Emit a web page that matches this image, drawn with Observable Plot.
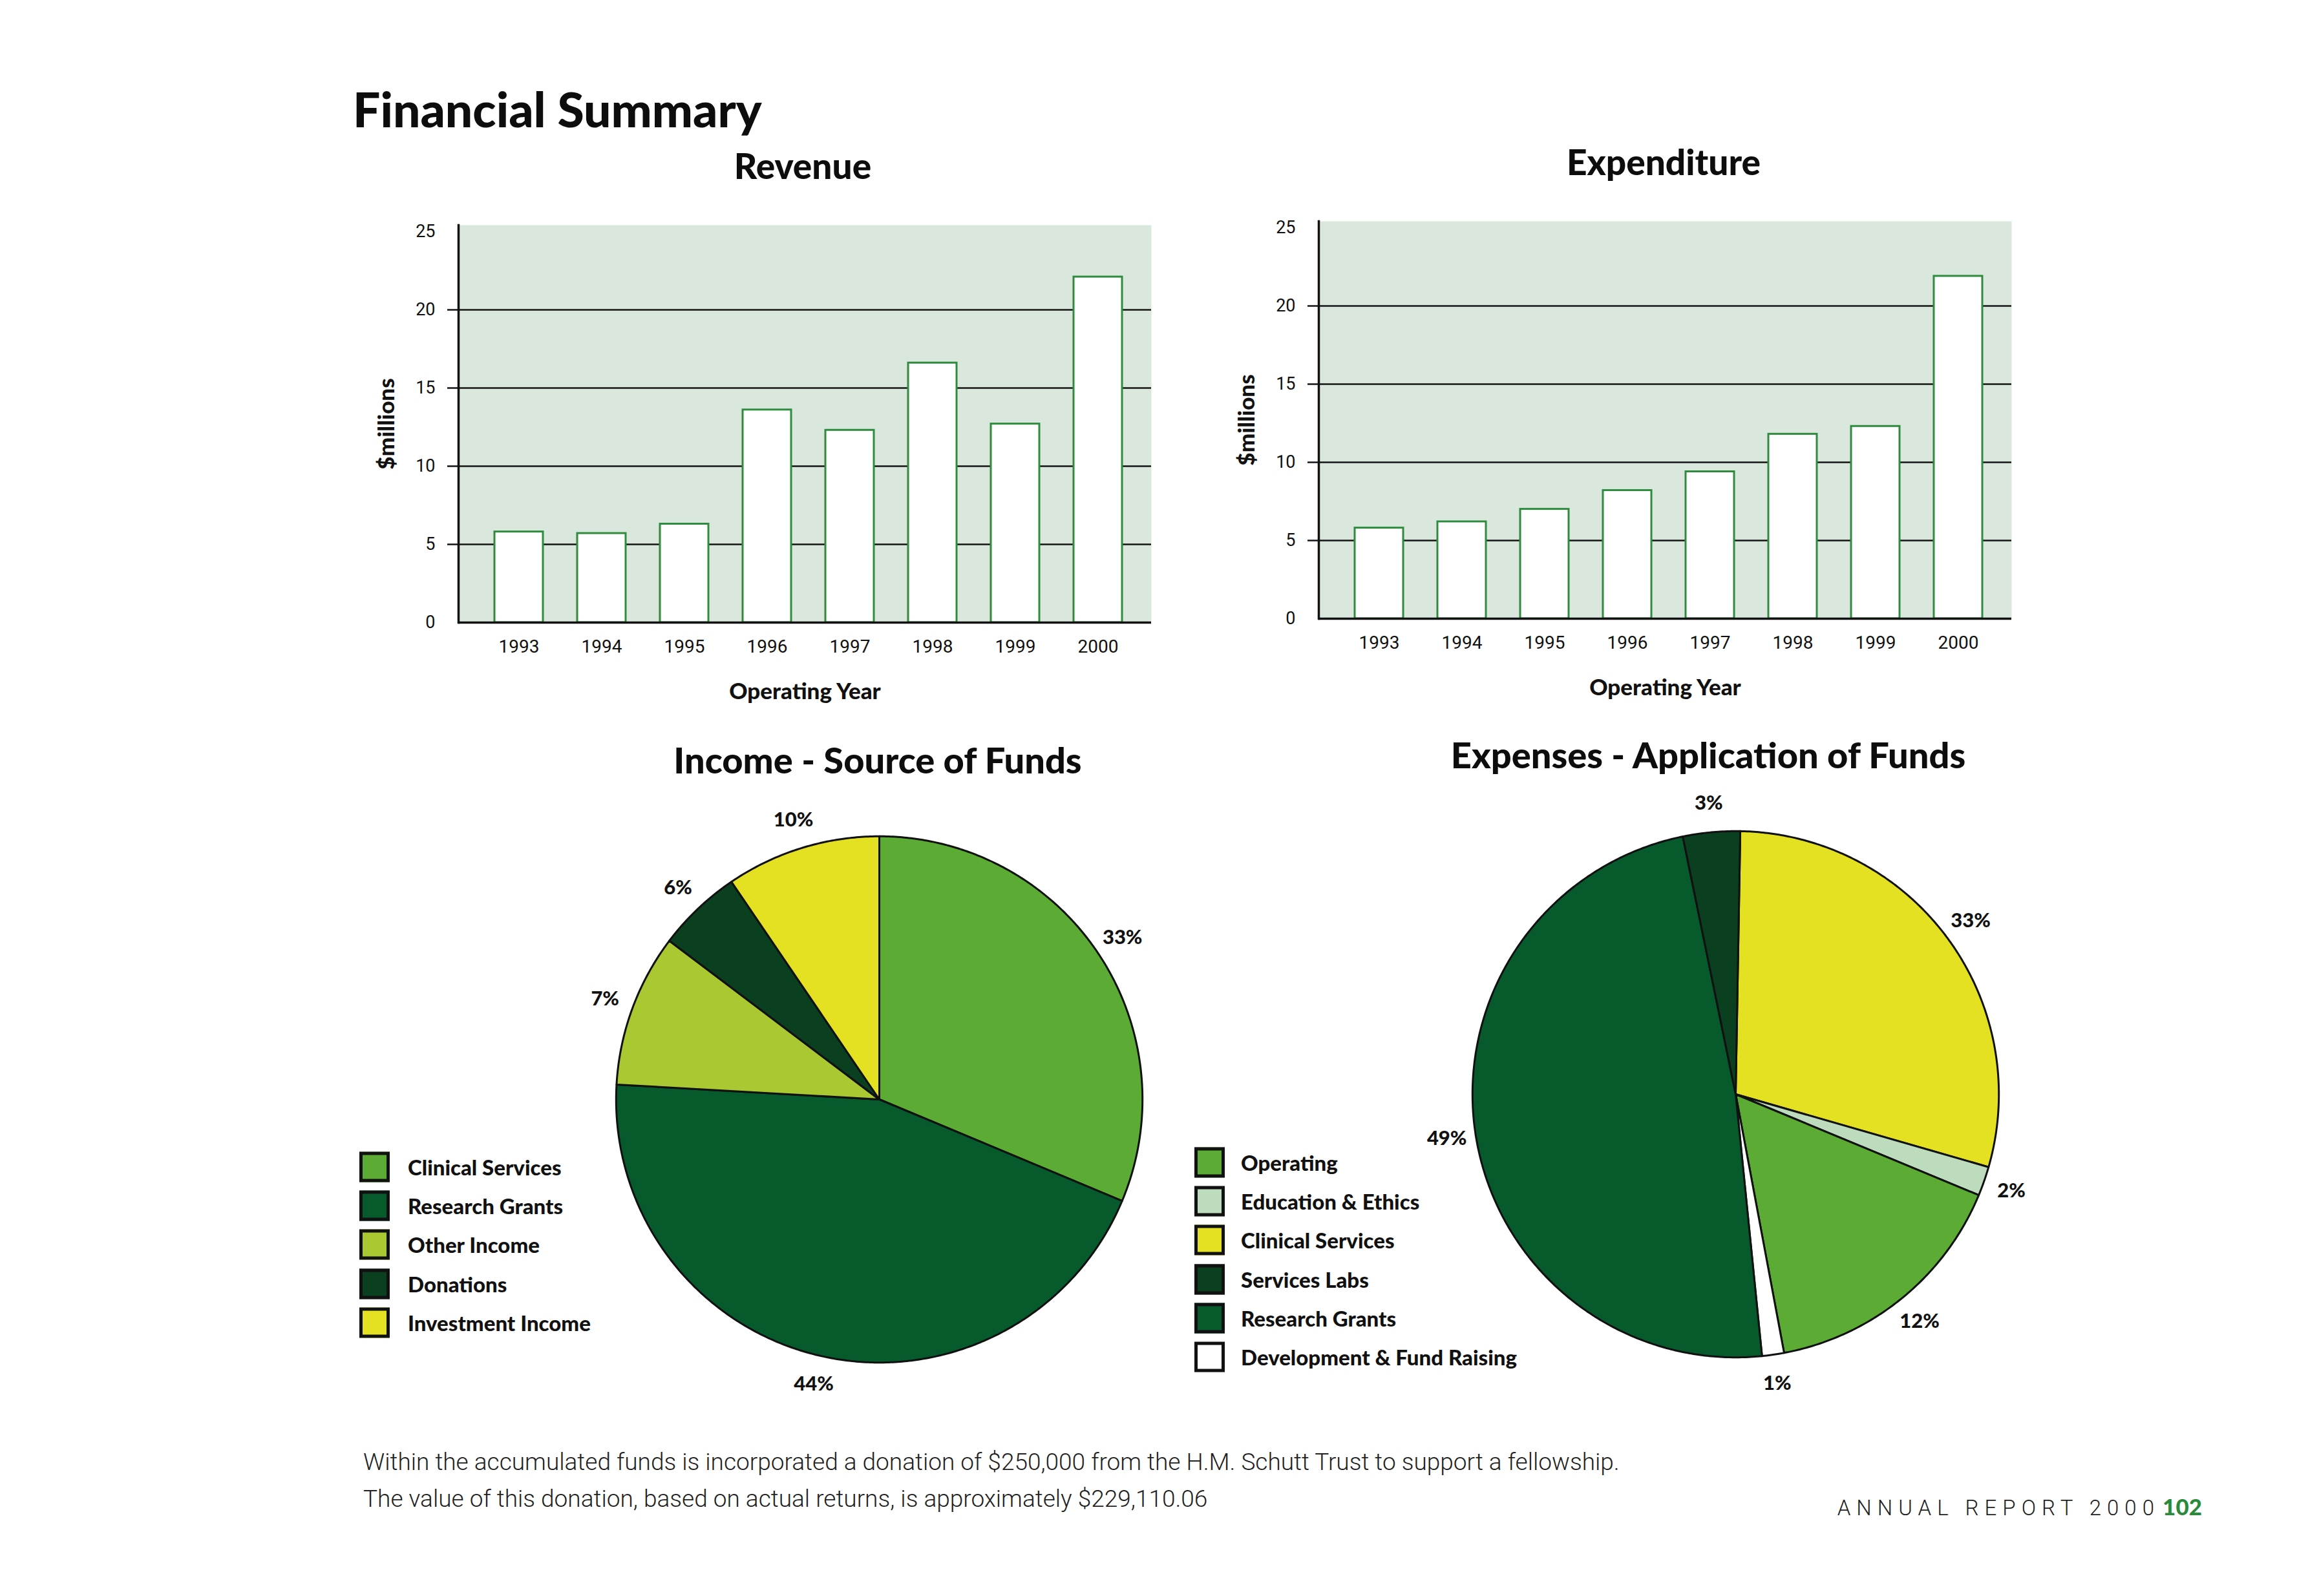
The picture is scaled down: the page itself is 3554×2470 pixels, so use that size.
<!DOCTYPE html>
<html>
<head>
<meta charset="utf-8">
<script src="https://cdn.jsdelivr.net/npm/d3@7"></script>
<script src="https://cdn.jsdelivr.net/npm/@observablehq/plot@0.6"></script>
<style>
html, body { margin: 0; padding: 0; background: #fff; }
#page { position: relative; width: 3554px; height: 2470px; overflow: hidden; background: #fff; font-family: Lato, "Open Sans", sans-serif; color: #111; }
.t { position: absolute; white-space: nowrap; line-height: 1; }
.cx { transform: translate(-50%, -50%); }
.lx { transform: translate(0, -50%); }
.rx { transform: translate(-100%, -50%); }
.h { font-family: Lato, sans-serif; font-weight: 900; color: #0d0d0d; }
.sw { position: absolute; box-sizing: border-box; width: 47px; height: 47px; border: 5px solid #111; transform: translate(0, -50%); }
.lt { position: absolute; white-space: nowrap; line-height: 1; font-family: Lato, sans-serif; font-weight: 900; font-size: 33px; transform: translate(0, -50%); color: #111; }
</style>
</head>
<body>
<div id="page"></div>
<script>
// ---------------- data ----------------
const years = ["1993", "1994", "1995", "1996", "1997", "1998", "1999", "2000"];
const revenue = [5.8, 5.7, 6.3, 13.6, 12.3, 16.6, 12.7, 22.1];
const expenditure = [5.8, 6.2, 7.0, 8.2, 9.4, 11.8, 12.3, 21.9];
const yTicks = [0, 5, 10, 15, 20, 25];
const gridValues = [5, 10, 15, 20];

// Income pie (clockwise from 12 o'clock)
const incomeCategories = ["Clinical Services", "Research Grants", "Other Income", "Donations", "Investment Income"];
const incomeShares = [31.3, 44.6, 9.4, 5.2, 9.5];
const incomeLabels = ["33%", "44%", "7%", "6%", "10%"];
const incomeColors = ["#5cab34", "#065a2c", "#a9c832", "#0a3f1f", "#e4e022"];

// Expenses pie (clockwise from 12 o'clock)
const expenseCategories = ["Clinical Services", "Education & Ethics", "Operating", "Development & Fund Raising", "Research Grants", "Services Labs"];
const expenseShares = [29.2, 1.8, 15.8, 1.35, 48.4, 3.5];
const expenseLabels = ["33%", "2%", "12%", "1%", "49%", "3%"];
const expenseColors = ["#e4e022", "#bddcbd", "#5cab34", "#ffffff", "#065a2c", "#0a3f1f"];
const expenseLegendOrder = ["Operating", "Education & Ethics", "Clinical Services", "Services Labs", "Research Grants", "Development & Fund Raising"];

const footnote = [
  "Within the accumulated funds is incorporated a donation of $250,000 from the H.M. Schutt Trust to support a fellowship.",
  "The value of this donation, based on actual returns, is approximately $229,110.06"
];

// ---------------- helpers ----------------
const page = document.getElementById("page");
function place(el, left, top) {
  el.style.position = "absolute";
  el.style.left = left + "px";
  el.style.top = top + "px";
  page.appendChild(el);
  return el;
}
function text(str, cls, left, top, style) {
  const d = document.createElement("div");
  d.className = "t " + cls;
  d.textContent = str;
  Object.assign(d.style, style || {});
  return place(d, left, top);
}

function barChart(values) {
  const data = years.map((year, i) => ({year, value: values[i]}));
  return Plot.plot({
    width: 1252,
    height: 765,
    marginLeft: 160,
    marginRight: 20,
    marginTop: 20,
    marginBottom: 130,
    style: {background: "transparent", fontFamily: "Roboto, sans-serif", color: "#111"},
    x: {type: "band", domain: years, paddingInner: 0.415, paddingOuter: 0, insetLeft: 55, insetRight: 45},
    y: {domain: [0, 25.41]},
    marks: [
      Plot.frame({fill: "#d9e7dc", stroke: "none"}),
      Plot.ruleY(gridValues, {stroke: "#151515", strokeWidth: 2.5, insetLeft: -17}),
      Plot.barY(data, {x: "year", y: "value", fill: "#ffffff", stroke: "#2f8c3f", strokeWidth: 3}),
      Plot.ruleY([0], {stroke: "#111", strokeWidth: 3.5}),
      Plot.frame({anchor: "left", stroke: "#111", strokeWidth: 3.5}),
      Plot.axisY(yTicks, {tickSize: 0, tickPadding: 36, fontSize: 27, label: null}),
      Plot.axisY([], {label: "$millions", labelAnchor: "center", labelArrow: "none", labelOffset: 124, fontSize: 35, fontWeight: 900, fontFamily: "Lato, sans-serif"}),
      Plot.axisX({tickSize: 0, tickPadding: 27, fontSize: 28, label: null}),
      Plot.axisX([], {label: "Operating Year", labelAnchor: "center", labelArrow: "none", labelOffset: 118, fontSize: 35, fontWeight: 900, fontFamily: "Lato, sans-serif"})
    ]
  });
}

function pieChart(cats, shares, labels, colors, startDeg) {
  const a0 = startDeg * Math.PI / 180;
  const arcs = d3.pie().sort(null).startAngle(a0).endAngle(a0 + 2 * Math.PI)(shares);
  const pts = [];
  arcs.forEach((a, i) => {
    const name = cats[i];
    pts.push({name, x: 0, y: 0});
    const n = Math.max(2, Math.ceil((a.endAngle - a.startAngle) / (Math.PI / 360)));
    for (let k = 0; k <= n; k++) {
      const t = a.startAngle + (a.endAngle - a.startAngle) * k / n;
      pts.push({name, x: Math.sin(t), y: Math.cos(t)});
    }
    pts.push({name, x: 0, y: 0});
  });
  const lab = arcs.map((a, i) => {
    const m = (a.startAngle + a.endAngle) / 2;
    return {text: labels[i], x: 1.11 * Math.sin(m), y: 1.11 * Math.cos(m)};
  });
  return Plot.plot({
    width: 1018,
    height: 1018,
    margin: 0,
    style: {background: "transparent"},
    x: {domain: [-1.25, 1.25], axis: null},
    y: {domain: [-1.25, 1.25], axis: null},
    color: {domain: cats, range: colors},
    marks: [
      Plot.line(pts, {x: "x", y: "y", z: "name", fill: "name", stroke: "#111", strokeWidth: 3, strokeLinejoin: "round"}),
      Plot.text(lab, {x: "x", y: "y", text: "text", fontSize: 31, fontWeight: 900, fontFamily: "Lato, sans-serif", fill: "#111"})
    ]
  });
}

function legend(cats, colorOf, left, textLeft, top0, step) {
  cats.forEach((c, i) => {
    const y = top0 + i * step;
    const s = document.createElement("div");
    s.className = "sw";
    s.style.background = colorOf(c);
    place(s, left, y);
    const t = document.createElement("div");
    t.className = "lt";
    t.textContent = c;
    place(t, textLeft, y);
  });
}

// ---------------- page ----------------
text("Financial Summary", "h lx", 546, 168, {fontSize: "75px"});
text("Revenue", "h cx", 1242, 256, {fontSize: "55px"});
text("Expenditure", "h cx", 2574, 250, {fontSize: "55px"});

place(barChart(revenue), 549, 328);
place(barChart(expenditure), 1880, 322);

text("Income - Source of Funds", "h cx", 1358, 1176, {fontSize: "56px"});
text("Expenses - Application of Funds", "h cx", 2643, 1168, {fontSize: "56px"});

place(pieChart(incomeCategories, incomeShares, incomeLabels, incomeColors, 0), 851, 1192);
place(pieChart(expenseCategories, expenseShares, expenseLabels, expenseColors, 1), 2176, 1184);

const incomeColorScale = d3.scaleOrdinal(incomeCategories, incomeColors);
const expenseColorScale = d3.scaleOrdinal(expenseCategories, expenseColors);
legend(incomeCategories, incomeColorScale, 556, 631, 1806, 60.2);
legend(expenseLegendOrder, expenseColorScale, 1848, 1920, 1799, 60.2);

text(footnote[0], "lx", 562, 2262, {fontFamily: "Roboto, sans-serif", fontWeight: 300, fontSize: "37px", color: "#222"});
text(footnote[1], "lx", 562, 2319, {fontFamily: "Roboto, sans-serif", fontWeight: 300, fontSize: "37px", color: "#222"});

const footer = document.createElement("div");
footer.className = "t rx";
footer.innerHTML = '<span style="font-family:Roboto,sans-serif;font-weight:300;font-size:33px;letter-spacing:9px;color:#222">ANNUAL REPORT 2000</span> <span style="font-family:Lato,sans-serif;font-weight:900;font-size:35px;color:#2a8a3c">102</span>';
place(footer, 3407, 2332);
</script>
</body>
</html>
